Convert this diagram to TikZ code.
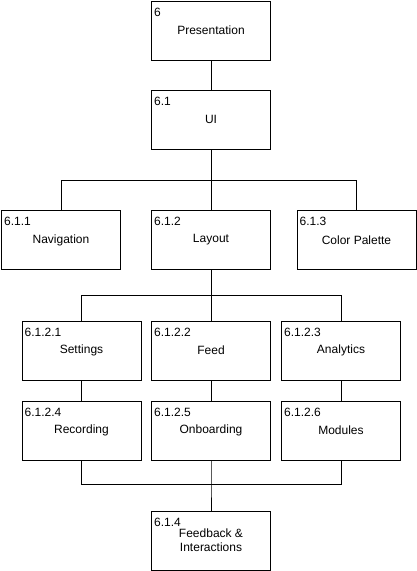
\documentclass[tikz,border=0pt]{standalone}
\usepackage{fontspec}
\setmainfont{Liberation Sans}
\begin{document}
\begin{tikzpicture}[x=1pt,y=-1pt,
  box/.style={draw=black, line width=1pt, rectangle, minimum width=119pt, minimum height=59pt,
    inner sep=0pt, align=center, font=\fontsize{12}{14}\selectfont},
  num/.style={label={[anchor=north west, inner sep=0pt, xshift=3pt, yshift=-7pt,
    font=\fontsize{12}{14}\selectfont]north west:#1}},
  conn/.style={draw=black, line width=1pt}]
\useasboundingbox (0,0) rectangle (417,571);
\node[box, num=6] (p) at (211,30.5) {Presentation};
\node[box, num=6.1] (ui) at (211,119.5) {UI};
\node[box, num=6.1.1] (nav) at (61,240) {Navigation};
\node[box, num=6.1.2] (lay) at (211,240) {Layout};
\node[box, num=6.1.3] (col) at (356.5,240) {Color Palette};
\node[box, num=6.1.2.1] (set) at (81.5,350.5) {Settings};
\node[box, num=6.1.2.2] (feed) at (211,350.5) {Feed};
\node[box, num=6.1.2.3] (ana) at (341,350.5) {Analytics};
\node[box, num=6.1.2.4] (rec) at (81.5,430.5) {Recording};
\node[box, num=6.1.2.5] (onb) at (211,430.5) {Onboarding};
\node[box, num=6.1.2.6] (mod) at (341,430.5) {Modules};
\node[box, num=6.1.4] (fb) at (211,540.5) {Feedback \&\\Interactions};
\coordinate (b1) at (211,180);
\coordinate (b2) at (211,295.5);
\coordinate (b3) at (211,484.5);
\draw[conn] (p.south) -- (ui.north);
\draw[conn] (ui.south) -- (b1) -| (nav.north);
\draw[conn] (b1) -| (col.north);
\draw[conn] (b1) -- (lay.north);
\draw[conn] (lay.south) -- (b2) -| (set.north);
\draw[conn] (b2) -| (ana.north);
\draw[conn] (b2) -- (feed.north);
\draw[conn] (set.south) -- (rec.north);
\draw[conn] (feed.south) -- (onb.north);
\draw[conn] (ana.south) -- (mod.north);
\draw[conn] (rec.south) |- (b3);
\draw[conn] (mod.south) |- (b3);
\draw[conn] (onb.south) -- (b3) -- (fb.north);
\end{tikzpicture}
\end{document}
